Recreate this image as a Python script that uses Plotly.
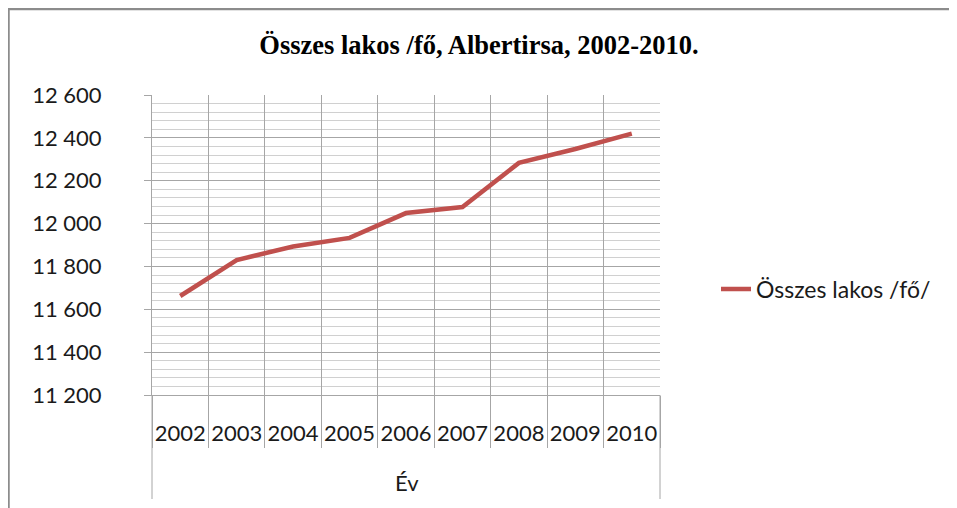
import plotly.graph_objects as go

# ---- data ----
years = ["2002", "2003", "2004", "2005", "2006", "2007", "2008", "2009", "2010"]
population = [11662, 11830, 11893, 11933, 12049, 12077, 12283, 12348, 12420]
series_name = "Összes lakos /fő/"
chart_title = "Összes lakos /fő, Albertirsa, 2002-2010."
x_title = "Év"
y_ticks = [11200, 11400, 11600, 11800, 12000, 12200, 12400, 12600]

# page is rendered with an 8px body margin; figure origin sits at (8, 8)
OFF = 8
W, H = 957 - OFF, 508 - OFF
PL, PT, PR, PB = 152, 95, 660, 395          # plot area in page pixels
L, T = PL - OFF, PT - OFF
R, B = W - (PR - OFF), H - (PB - OFF)
PW, PH = PR - PL, PB - PT


def px_to_paper_x(px):
    return (px - PL) / PW


def px_to_paper_y(py):
    return (PB - py) / PH


FONT = "Lato, 'Open Sans', sans-serif"
GRID = "#a6a6a6"
MINOR = "#d0d0d0"
TXT = "#1a1a1a"

fig = go.Figure()
fig.add_trace(go.Scatter(
    x=years, y=population, mode="lines", name=series_name,
    line=dict(color="#C0504D", width=4.5),
))

fig.update_layout(
    width=W, height=H,
    margin=dict(l=L, r=R, t=T, b=B, autoexpand=False),
    paper_bgcolor="white", plot_bgcolor="white",
    separators=". ",
    font=dict(family=FONT, size=22, color=TXT),
    title=dict(
        text="<b>" + chart_title + "</b>",
        font=dict(family="'Liberation Serif', 'Times New Roman', serif", size=26.5, color="black"),
        x=(479 - OFF) / W, xref="container", xanchor="center",
        y=1 - (45 - OFF) / H, yref="container", yanchor="middle",
    ),
    showlegend=True,
    legend=dict(
        x=px_to_paper_x(716), xanchor="left",
        y=px_to_paper_y(289), yanchor="middle",
        font=dict(family=FONT, size=23, color=TXT),
        bgcolor="rgba(0,0,0,0)",
    ),
)

fig.update_xaxes(
    type="category", categoryorder="array", categoryarray=years,
    range=[-0.5, len(years) - 0.5],
    tickson="boundaries", ticks="outside", ticklen=52, tickcolor=GRID, tickwidth=1,
    showgrid=True, gridcolor=GRID, gridwidth=1,
    showline=True, linecolor=GRID, linewidth=1,
    tickangle=0,
    ticklabelstandoff=19,
    tickfont=dict(family=FONT, size=22, color=TXT),
    zeroline=False,
)

fig.update_yaxes(
    range=[y_ticks[0], y_ticks[-1]],
    tickvals=y_ticks,
    tickformat=",d",
    ticks="outside", ticklen=7, tickcolor=GRID, tickwidth=1,
    showgrid=True, gridcolor=GRID, gridwidth=1,
    minor=dict(dtick=40, tick0=y_ticks[0], showgrid=True, gridcolor=MINOR, gridwidth=1, ticks=""),
    showline=True, linecolor=GRID, linewidth=1,
    ticklabelstandoff=38,
    tickfont=dict(family=FONT, size=22, color=TXT),
    zeroline=False,
)

# x-axis title "Év" placed like the outer category level
fig.add_annotation(
    text=x_title, xref="paper", yref="paper",
    x=px_to_paper_x(407), y=px_to_paper_y(482),
    showarrow=False, xanchor="center", yanchor="middle",
    font=dict(family=FONT, size=22, color=TXT),
)

# outer category-level divider lines at both ends of the axis
for xp in (0, 1):
    fig.add_shape(type="line", xref="paper", yref="paper",
                  x0=xp, x1=xp, y0=0, y1=px_to_paper_y(499),
                  line=dict(color=GRID, width=1))

# chart-area border (top and left visible)
fig.add_shape(type="line", xref="paper", yref="paper",
              x0=px_to_paper_x(OFF), x1=px_to_paper_x(970),
              y0=px_to_paper_y(OFF + 1), y1=px_to_paper_y(OFF + 1),
              line=dict(color="#8c8c8c", width=2.5))
fig.add_shape(type="line", xref="paper", yref="paper",
              x0=px_to_paper_x(OFF + 0.5), x1=px_to_paper_x(OFF + 0.5),
              y0=px_to_paper_y(OFF), y1=px_to_paper_y(520),
              line=dict(color="#8c8c8c", width=2.5))

fig.write_html("out.html")
